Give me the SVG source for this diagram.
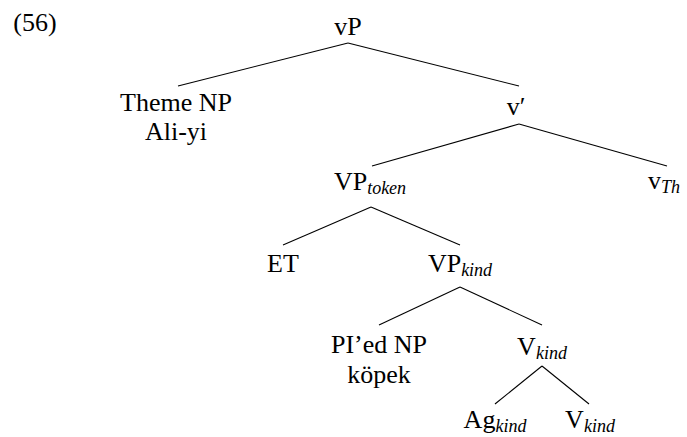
<svg xmlns="http://www.w3.org/2000/svg" width="687" height="437" viewBox="0 0 687 437">
<style>
text{font-family:'Liberation Serif','Times New Roman',serif;font-size:26px;fill:#000;text-anchor:middle}
.s{font-style:italic;font-size:18px}
.e{stroke:#000;stroke-width:1.1;fill:none}
</style>
<rect width="687" height="437" fill="#fff"/>
<text x="35" y="31">(56)</text>
<g id="n-vP"><text x="348" y="35">vP</text></g>
<g id="n-theme"><text x="176" y="111">Theme NP</text><text x="176" y="140">Ali-yi</text></g>
<g id="n-vbar"><text x="516" y="115">v′</text></g>
<g id="n-VPtoken"><text x="370" y="190">VP<tspan class="s" dy="4">token</tspan></text></g>
<g id="n-vTh"><text x="664" y="189">v<tspan class="s" dy="4">Th</tspan></text></g>
<g id="n-ET"><text x="283" y="272">ET</text></g>
<g id="n-VPkind"><text x="460" y="272">VP<tspan class="s" dy="4">kind</tspan></text></g>
<g id="n-PIed"><text x="379" y="353">PI’ed NP</text><text x="379" y="383">köpek</text></g>
<g id="n-Vkind1"><text x="542" y="355">V<tspan class="s" dy="4">kind</tspan></text></g>
<g id="n-Agkind"><text x="495" y="428">Ag<tspan class="s" dy="4">kind</tspan></text></g>
<g id="n-Vkind2"><text x="590" y="428">V<tspan class="s" dy="4">kind</tspan></text></g>
<g id="edges">
<line class="e" x1="348" y1="43" x2="178" y2="86"/>
<line class="e" x1="348" y1="43" x2="519" y2="86"/>
<line class="e" x1="519" y1="124" x2="372" y2="166"/>
<line class="e" x1="519" y1="124" x2="667" y2="166"/>
<line class="e" x1="371" y1="207" x2="283" y2="245"/>
<line class="e" x1="371" y1="207" x2="460" y2="245"/>
<line class="e" x1="460" y1="287" x2="379" y2="325"/>
<line class="e" x1="460" y1="287" x2="542" y2="325"/>
<line class="e" x1="542" y1="366" x2="495" y2="404"/>
<line class="e" x1="542" y1="366" x2="589" y2="404"/>
</g>
</svg>
